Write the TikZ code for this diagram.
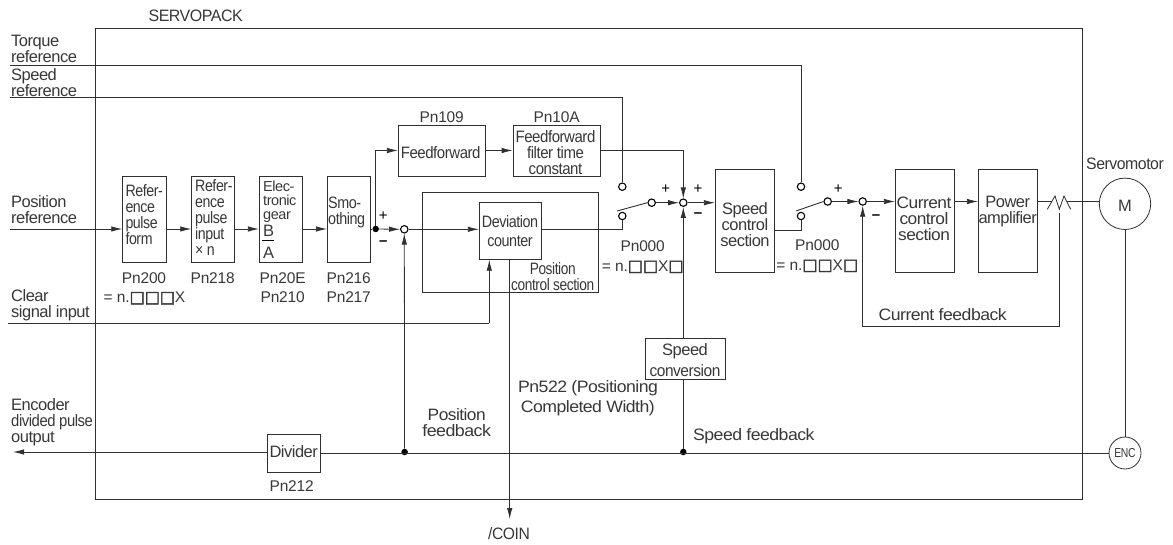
\documentclass[tikz,border=0pt]{standalone}
\usepackage{fontspec}
\setmainfont[LetterSpace=-3]{Liberation Sans}
\newfontfamily\sqf[FakeBold=2.5]{DejaVu Sans}
\usetikzlibrary{arrows.meta,calc}
\definecolor{ink}{HTML}{383838}
\definecolor{lin}{HTML}{303030}
\newcommand{\sq}{{\sqf\fontsize{16}{16}\selectfont □}}
\newcommand{\blk}[5]{\node[blk,minimum width={#4-#2},minimum height={#5-#3}] (#1) at ({(#2+#4)/2},{(#3+#5)/2}) {};}
\newcommand{\sx}[2]{\scalebox{#1}[1]{#2}}
\tikzset{
  lbl/.style={inner sep=0pt,text=ink,font=\fontsize{16.5}{16}\selectfont,align=center,anchor=center},
  lft/.style={lbl,align=left,anchor=west},
  par/.style={lbl,font=\fontsize{15.5}{19}\selectfont\addfontfeature{LetterSpace=-1}},
  blk/.style={draw=lin,line width=0.8pt,inner sep=0pt,rectangle},
  wire/.style={draw=lin,line width=0.8pt},
  arr/.style={wire,-{Latex[length=11pt,width=5.5pt]}},
  sumc/.style={circle,draw=black,line width=1.1pt,minimum size=7.4pt,inner sep=0pt,fill=white},
  jdot/.style={circle,fill=black,minimum size=6.5pt,inner sep=0pt},
  pm/.style={inner sep=0pt,text=black,font=\fontsize{15}{15}\selectfont},
}
\begin{document}
\begin{tikzpicture}[x=1pt,y=-1pt]
\useasboundingbox (0,0) rectangle (1173,545);
% boxes
\blk{servo}{95.5}{28.5}{1082.5}{499}
\blk{b1}{122.7}{176.5}{166.3}{262}
\blk{b2}{191.7}{176.5}{234.7}{262}
\blk{b3}{259.3}{176.5}{302.3}{262}
\blk{b4}{327.3}{176.5}{370.3}{262}
\blk{ff}{398.3}{125}{485.7}{176}
\blk{ft}{513}{125}{600.3}{176}
\blk{pcs}{422.3}{192}{598.7}{292.3}
\blk{dev}{479.3}{202.7}{541.7}{259.3}
\blk{spd}{715.3}{169}{774.3}{272.3}
\blk{cur}{895.3}{169}{954.7}{272.3}
\blk{pow}{978.3}{169}{1037.7}{272.3}
\blk{conv}{645.3}{338}{725}{379}
\blk{div}{267.3}{434.7}{320.3}{472}
% motor, encoder
\node[circle,draw=lin,line width=0.8pt,minimum size=51.4pt,inner sep=0pt] (mot) at (1125,203.8) {};
\node[circle,draw=lin,line width=0.8pt,minimum size=32pt,inner sep=0pt] (enc) at (1125,453) {};
% junctions
\node[jdot] (dp) at (375.7,229) {};
\node[sumc] (s1) at (404.3,229.3) {};
\node[sumc] (s2) at (683.3,202.7) {};
\node[sumc] (s3) at (862.7,201.5) {};
\node[sumc] (swaH) at (622.3,186.7) {};
\node[sumc] (swaL) at (622.3,216) {};
\node[sumc] (swaO) at (651.7,202.7) {};
\node[sumc] (swbH) at (801,186.7) {};
\node[sumc] (swbL) at (801,216) {};
\node[sumc] (swbO) at (827.7,201.5) {};
\node[jdot] (dfb1) at (404.6,452) {};
\node[jdot] (dfb2) at (683.3,452) {};
% free ends
\coordinate (inT) at (10,65.7);
\coordinate (inS) at (10,97.4);
\coordinate (inP) at (10,229);
\coordinate (inC) at (8,323.3);
\coordinate (outE) at (13,452);
\coordinate (coin) at (509.7,519);
\coordinate (armA) at (617,211);
\coordinate (armB) at (796,211);
\coordinate (tapI) at (1059.3,213.3);
\coordinate (zzA) at (1047.3,209.3);
\coordinate (zzB) at (1055,196);
\coordinate (zzC) at (1059.3,209.3);
\coordinate (zzD) at (1064,196);
\coordinate (zzE) at (1070.7,209.3);
\coordinate (zzL) at (1051.8,201.5);
\coordinate (zzR) at (1066.8,201.5);
\coordinate (fbI) at (1059.3,326);
\coordinate (clrT) at (489.3,323.3);
% input references
\draw[wire] (inT) -| (swbH.north);
\draw[wire] (inS) -| (swaH.north);
\draw[arr] (inP) -- (inP -| b1.west);
\draw[arr] (b1.east |- inP) -- (inP -| b2.west);
\draw[arr] (b2.east |- inP) -- (inP -| b3.west);
\draw[arr] (b3.east |- inP) -- (inP -| b4.west);
\draw[wire] (b4.east |- inP) -- (dp);
\draw[arr] (dp) -- (s1.west);
\draw[arr] (dp) |- (ff.west);
\draw[arr] (ff.east) -- (ft.west);
\draw[arr] (ft.east) -| (s2.north);
\draw[arr] (s1.east) -- (s1 -| dev.west);
\draw[wire] (s1 -| dev.east) -| (swaL.south);
\draw[line width=0.9pt,draw=lin] (armA) -- (swaO.west);
\draw[arr] (swaO.east) -- (s2.west);
\draw[arr] (s2.east) -- (s2 -| spd.west);
\draw[wire] (spd.east |- 0,230) -| (swbL.south);
\draw[line width=0.9pt,draw=lin] (armB) -- (swbO.west);
\draw[arr] (swbO.east) -- (s3.west);
\draw[arr] (s3.east) -- (s3 -| cur.west);
\draw[arr] (cur.east |- s3) -- (s3 -| pow.west);
\draw[wire] (pow.east |- s3) -- (zzL);
\draw[wire] (zzA) -- (zzB) -- (zzC) -- (zzD) -- (zzE);
\draw[wire] (zzR) -- (mot.west |- s3);
\draw[arr] (tapI) -- (fbI) -| (s3.south);
\draw[wire] (mot.south) -- (enc.north);
% feedback
\draw[wire] (enc.west) -- (div.east |- enc.west);
\draw[arr] (div.west |- outE) -- (outE);
\draw[wire] (dfb2) -- (conv.south -| dfb2);
\draw[arr] (conv.north -| dfb2) -- (s2.south);
\draw[arr] (dfb1) -- (s1.south);
\draw[arr] (dev.south -| coin) -- (coin);
\draw[wire] (inC) -- (clrT);
\draw[arr] (clrT) -- (clrT |- dev.south);
% bar of the gear fraction
\node[inner sep=0pt,fill=black,minimum width=12pt,minimum height=1.4pt] (gearbar) at (268,240.7) {};
% left side labels
\node[lbl] (tServo) at (195.7,16) {\sx{.97}{SERVOPACK}};
\node[lft] (tT) at (11,48.5) {Torque\\reference};
\node[lft] (tS) at (11,83) {Speed\\reference};
\node[lft] (tP) at (11,210) {Position\\reference};
\node[lft] (tC) at (11,305) {Clear\\signal input};
\node[lft] (tE) at (11,422) {Encoder\\\sx{.9}{divided pulse}\\output};
% block texts
\node[lft] (t1) at (125.3,215) {\sx{.86}{Refer-}\\\sx{.86}{ence}\\\sx{.86}{pulse}\\\sx{.86}{form}};
\node[lft] (t2) at (195,218) {\sx{.86}{Refer-}\\\sx{.86}{ence}\\\sx{.86}{pulse}\\\sx{.86}{input}\\\sx{.86}{× n}};
\node[lft,font=\fontsize{14.5}{13.8}\selectfont] (t3) at (263,201.5) {Elec-\\tronic\\gear};
\node[lft] (t3b) at (263,231) {B};
\node[lft] (t3a) at (263,252.7) {A};
\node[lft] (t4) at (328,212.5) {\sx{.87}{Smo-}\\\sx{.87}{othing}};
\node[lbl] (t5) at (440.7,152.3) {\sx{.91}{Feedforward}};
\node[lbl] (t6) at (555.5,152.2) {\sx{.91}{Feedforward}\\\sx{.91}{filter time}\\\sx{.91}{constant}};
\node[lbl,font=\fontsize{16.5}{19}\selectfont] (t7) at (510,231) {\sx{.87}{Deviation}\\\sx{.87}{counter}};
\node[lbl] (t8) at (552.7,276.7) {\sx{.83}{Position}\\\sx{.83}{control section}};
\node[lbl] (t9) at (745,225) {Speed\\control\\section};
\node[lbl] (t10) at (924,218.5) {\sx{1.05}{Current}\\\sx{1.05}{control}\\\sx{1.05}{section}};
\node[lbl] (t11) at (1007.7,212) {Power\\amplifier};
\node[lbl,font=\fontsize{16.5}{21}\selectfont] (t12) at (685,360) {Speed\\\sx{.94}{conversion}};
\node[lbl] (t13) at (293.7,452) {Divider};
\node[lbl] (tSm) at (1125,164) {\sx{.96}{Servomotor}};
\node[lbl] (tM) at (1125,206) {M};
\node[lbl,font=\fontsize{13}{13}\selectfont] (tEnc) at (1125,453) {\sx{.8}{ENC}};
% parameter labels
\node[par] (p1) at (144,278) {Pn200};
\node[par] (p1v) at (144.5,298) {= n.\sq\sq\sq X};
\node[par] (p2) at (212.7,278) {Pn218};
\node[par] (p3) at (282.7,287.5) {Pn20E\\Pn210};
\node[par] (p4) at (348.7,287.5) {Pn216\\Pn217};
\node[par] (p5) at (441.7,117) {Pn109};
\node[par] (p6) at (556.7,117) {Pn10A};
\node[par] (p7) at (642.7,245.7) {Pn000};
\node[par] (p7v) at (642.7,266.7) {= n.\sq\sq X\sq};
\node[par] (p8) at (817.3,245) {Pn000};
\node[par] (p8v) at (817.3,265.7) {= n.\sq\sq X\sq};
\node[par] (p9) at (291.7,486) {Pn212};
% other labels
\node[lft] (n1) at (518,388.7) {\sx{1.07}{Pn522 (Positioning}};
\node[lft] (n2) at (520.7,408.7) {\sx{1.07}{Completed Width)}};
\node[lbl] (n3) at (456.7,422.7) {\sx{1.05}{Position}\\\sx{1.08}{feedback}};
\node[lft] (n4) at (693,436.7) {\sx{1.07}{Speed feedback}};
\node[lbl] (n5) at (942.7,315) {\sx{1.07}{Current feedback}};
\node[lbl] (n6) at (509,534) {\sx{.95}{/COIN}};
% signs
\node[pm] (a1) at (383.3,216.5) {+};
\node[pm] (m1) at (383.3,243.5) {\bfseries –};
\node[pm] (a2) at (665.7,189.3) {+};
\node[pm] (a3) at (698,189.3) {+};
\node[pm] (m3) at (698,214.7) {\bfseries –};
\node[pm] (a4) at (838.3,189) {+};
\node[pm] (m4) at (876,216.7) {\bfseries –};
\end{tikzpicture}
\end{document}
